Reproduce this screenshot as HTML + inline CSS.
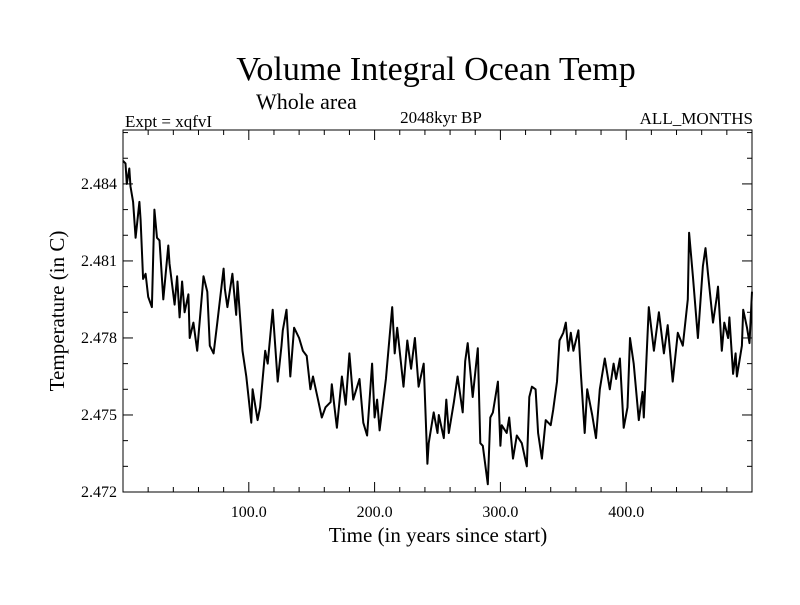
<!DOCTYPE html>
<html><head><meta charset="utf-8"><style>
body{margin:0;background:#fff}
svg text{font-family:"Liberation Serif",serif;fill:#000}
</style></head><body>
<svg id="chart" width="800" height="600" xmlns="http://www.w3.org/2000/svg">
<rect width="800" height="600" fill="#fff"/>
<text x="436" y="80" font-size="34" text-anchor="middle">Volume Integral Ocean Temp</text>
<text x="256" y="109" font-size="22">Whole area</text>
<text x="125" y="127" font-size="17">Expt = xqfvI</text>
<text x="441" y="123" font-size="17" text-anchor="middle">2048kyr BP</text>
<text x="753" y="124" font-size="17" text-anchor="end">ALL_MONTHS</text>
<g id="axes"></g>
<path id="series" fill="none" stroke="#000" stroke-width="2" stroke-linejoin="round"/>
<rect x="123" y="130" width="629" height="362" fill="none" stroke="#000" stroke-width="1"/>
<text x="438" y="542" font-size="21" text-anchor="middle">Time (in years since start)</text>
<text transform="translate(64,311) rotate(-90)" font-size="21" text-anchor="middle">Temperature (in C)</text>
</svg>
<script>
const years=[0,2,3,5,6,8,10,13,14,16,18,20,23,25,27,29,32,36,37,41,43,45,47,49,52,53,56,59,64,67,69,72,75,80,81,83,87,90,91,95,98,102,103,107,109,113,115,119,123,126,127,130,133,136,140,143,146,149,151,155,158,161,165,166,170,174,177,180,183,188,191,194,198,200,202,204,209,214,216,218,223,226,229,232,235,239,242,243,247,250,251,255,257,259,263,266,270,272,274,278,282,284,286,290,292,294,298,300,301,305,307,310,313,317,321,323,325,328,330,333,336,340,342,345,347,350,352,354,356,358,362,364,367,369,373,376,379,383,387,390,392,395,398,401,403,406,410,413,414,418,422,426,430,433,437,441,445,449,450,453,457,461,463,465,469,472,473,476,478,481,482,485,487,488,492,493,496,498,500];
const temps=[2.4849,2.4848,2.4840,2.4846,2.4839,2.4833,2.4819,2.4833,2.4826,2.4803,2.4805,2.4796,2.4792,2.4830,2.4819,2.4818,2.4795,2.4816,2.4809,2.4793,2.4804,2.4788,2.4802,2.4790,2.4797,2.4780,2.4786,2.4775,2.4804,2.4798,2.4777,2.4774,2.4786,2.4807,2.4799,2.4792,2.4805,2.4789,2.4802,2.4775,2.4765,2.4747,2.4760,2.4748,2.4753,2.4775,2.4770,2.4791,2.4763,2.4777,2.4783,2.4791,2.4765,2.4784,2.4780,2.4775,2.4773,2.4760,2.4765,2.4756,2.4749,2.4753,2.4755,2.4762,2.4745,2.4765,2.4754,2.4774,2.4756,2.4764,2.4747,2.4742,2.4770,2.4749,2.4756,2.4744,2.4764,2.4792,2.4774,2.4784,2.4761,2.4779,2.4768,2.4780,2.4761,2.4770,2.4731,2.4739,2.4751,2.4743,2.4750,2.4741,2.4756,2.4743,2.4755,2.4765,2.4751,2.4771,2.4778,2.4757,2.4776,2.4739,2.4738,2.4723,2.4749,2.4751,2.4763,2.4738,2.4746,2.4743,2.4749,2.4733,2.4742,2.4739,2.4730,2.4757,2.4761,2.4760,2.4743,2.4733,2.4748,2.4746,2.4752,2.4763,2.4779,2.4782,2.4786,2.4775,2.4782,2.4775,2.4783,2.4766,2.4743,2.4760,2.4750,2.4741,2.4760,2.4772,2.4760,2.4770,2.4764,2.4772,2.4745,2.4753,2.4780,2.4770,2.4748,2.4759,2.4749,2.4792,2.4775,2.4790,2.4774,2.4785,2.4763,2.4782,2.4777,2.4795,2.4821,2.4804,2.4780,2.4808,2.4815,2.4805,2.4786,2.4796,2.4800,2.4775,2.4786,2.4780,2.4788,2.4766,2.4774,2.4765,2.4777,2.4791,2.4784,2.4778,2.4798];
const xTicks=[100,200,300,400];
const xTickLabels=["100.0","200.0","300.0","400.0"];
const yTicks=[2.472,2.475,2.478,2.481,2.484];
const yTickLabels=["2.472","2.475","2.478","2.481","2.484"];
const X0=123,X1=752,Y0=492,Y1=130,xMin=0,xMax=500,yMin=2.472,yMax=2.48610;
function sx(v){return X0+(v-xMin)/(xMax-xMin)*(X1-X0);}
function sy(v){return Y0-(v-yMin)/(yMax-yMin)*(Y0-Y1);}
const NS="http://www.w3.org/2000/svg";
const g=document.getElementById('axes');
function line(x1,y1,x2,y2,name){const l=document.createElementNS(NS,'line');
l.setAttribute('x1',x1);l.setAttribute('y1',y1);l.setAttribute('x2',x2);l.setAttribute('y2',y2);
l.setAttribute('stroke','#000');l.setAttribute('stroke-width','1');


g.appendChild(l);}
function text(x,y,s,anchor,name){const t=document.createElementNS(NS,'text');
t.setAttribute('x',x);t.setAttribute('y',y);t.setAttribute('font-size','16');t.setAttribute('text-anchor',anchor);t.textContent=s;


g.appendChild(t);}
for(let v=20;v<500;v+=20){const x=sx(v);const major=v%100===0;const L=major?10:5;
line(x,Y0,x,Y0-L,'x-tick');line(x,Y1,x,Y1+L,'x-tick-top');}
for(let k=0;k<=14;k++){const v=2.472+k*0.001;const y=sy(v);const major=k%3===0;const L=major?10:5;
line(X0,y,X0+L,y,'y-tick');line(X1,y,X1-L,y,'y-tick-right');}
xTicks.forEach((v,i)=>text(sx(v),517,xTickLabels[i],'middle','x-tick-label'));
yTicks.forEach((v,i)=>text(117,sy(v)+5,yTickLabels[i],'end','y-tick-label'));
let d='';years.forEach((yr,i)=>{d+=(i?'L':'M')+sx(yr).toFixed(1)+' '+sy(temps[i]).toFixed(1);});
document.getElementById('series').setAttribute('d',d);
</script>
</body></html>
